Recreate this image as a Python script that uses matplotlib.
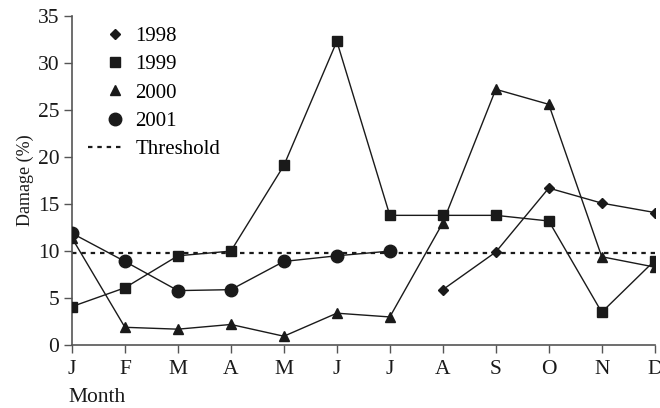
import numpy as np
import matplotlib
matplotlib.use("Agg")
import matplotlib.pyplot as plt
from matplotlib.lines import Line2D
from matplotlib.legend_handler import HandlerLine2D

plt.rcParams['font.family'] = ['Liberation Serif', 'DejaVu Serif']

months = ['J', 'F', 'M', 'A', 'M', 'J', 'J', 'A', 'S', 'O', 'N', 'D']
nan = np.nan
y1998 = [nan, nan, nan, nan, nan, nan, nan, 5.9, 9.9, 16.7, 15.1, 14.1]
y1999 = [4.1, 6.1, 9.5, 10.0, 19.1, 32.3, 13.8, 13.8, 13.8, 13.2, 3.5, 9.0]
y2000 = [11.4, 1.9, 1.7, 2.2, 0.95, 3.4, 3.0, 13.0, 27.2, 25.6, 9.4, 8.3]
y2001 = [11.9, 8.9, 5.8, 5.9, 8.9, 9.5, 10.0, nan, nan, nan, nan, nan]
threshold = 9.8

x = np.arange(len(months))


class RightMarker(HandlerLine2D):
    # marker-only handles: put the marker near the right end of the handle
    def get_xdata(self, legend, xdescent, ydescent, width, height, fontsize):
        xm = 0.77 * width - xdescent
        return np.array([xm - 1, xm + 1]), np.array([xm])


fig = plt.figure(figsize=(6.6, 4.08), dpi=100)
ax = fig.add_axes([0.109, 0.154, 0.883, 0.807])

c = '#1a1a1a'
ax.axhline(threshold, color=c, linestyle=(0, (2, 2.2)), linewidth=1.6, zorder=1)
ax.plot(x, y1998, color=c, lw=1, marker='D', ms=5, zorder=3)
ax.plot(x, y1999, color=c, lw=1, marker='s', ms=7, zorder=3)
ax.plot(x, y2000, color=c, lw=1, marker='^', ms=7, zorder=3)
ax.plot(x, y2001, color=c, lw=1, marker='o', ms=9, zorder=3)

ax.set_xlim(0, 11)
ax.set_ylim(0, 35)
ax.set_xticks(x)
ax.set_xticklabels(months)
ax.set_yticks(np.arange(0, 36, 5))
for s in ['top', 'right']:
    ax.spines[s].set_visible(False)
for s in ['left', 'bottom']:
    ax.spines[s].set_color('#555555')
    ax.spines[s].set_linewidth(1.2)
ax.tick_params(direction='out', length=6, width=1, color='#555555',
               labelsize=15.5, colors=c)
ax.tick_params(axis='x', pad=5)
ax.tick_params(axis='y', pad=3)
ax.set_ylabel('Damage (%)', fontsize=13, color=c, labelpad=3)
fig.text(0.147, 0.025, 'Month', fontsize=15.5, color=c, ha='center', va='center')

handles = [
    Line2D([], [], color=c, marker='D', ms=5, linestyle='none'),
    Line2D([], [], color=c, marker='s', ms=7, linestyle='none'),
    Line2D([], [], color=c, marker='^', ms=7, linestyle='none'),
    Line2D([], [], color=c, marker='o', ms=9, linestyle='none'),
    Line2D([], [], color=c, linestyle=(0, (2, 2.2)), lw=1.6),
]
labels = ['1998', '1999', '2000', '2001', 'Threshold']
hm = {h: RightMarker() for h in handles[:4]}
leg = ax.legend(handles, labels, loc='upper left', bbox_to_anchor=(0.027, 0.968),
                frameon=False, fontsize=15, labelspacing=0.42,
                borderpad=0, borderaxespad=0,
                handlelength=1.7, handletextpad=0.58, handler_map=hm)

fig.savefig('out.png', dpi=100)
